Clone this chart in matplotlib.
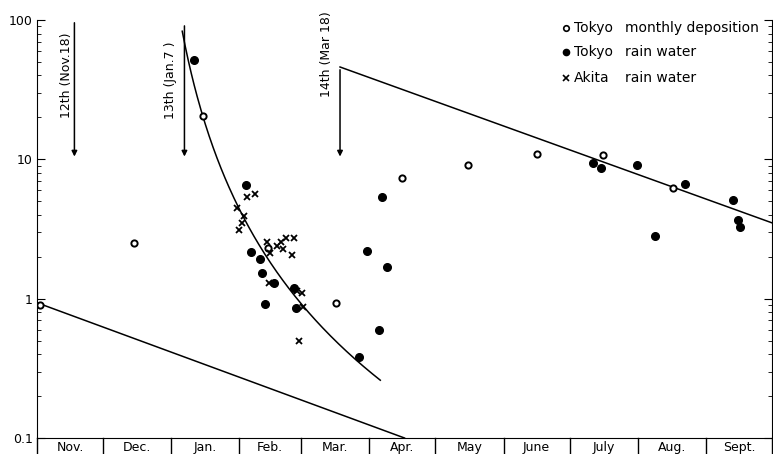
import numpy as np
import matplotlib.pyplot as plt

# days counted from Nov. 1
months = ["Nov.", "Dec.", "Jan.", "Feb.", "Mar.", "Apr.", "May", "June", "July", "Aug.", "Sept."]
month_days = [30, 31, 31, 28, 31, 30, 31, 30, 31, 31, 30]

# Tokyo monthly deposition (open circles)
dep_day = [1.4, 44, 75.5, 105, 136, 166, 196, 227, 257, 289]
dep_val = [0.9, 2.5, 20.5, 2.3, 0.93, 7.3, 9.1, 11.0, 10.7, 6.2]

# Tokyo rain water (filled circles)
tok_day = [71.4, 95, 97.3, 101.4, 102.3, 107.7, 103.6, 116.8, 117.7, 146.4, 150, 155.5,
           156.8, 159, 252.7, 256.4, 272.7, 281, 294.5, 316.4, 318.6, 319.5]
tok_val = [51.5, 6.5, 2.18, 1.94, 1.54, 1.30, 0.92, 1.2, 0.86, 0.38, 2.21, 0.60,
           5.4, 1.70, 9.4, 8.6, 9.05, 2.8, 6.6, 5.07, 3.64, 3.25]

# Akita rain water (crosses)
aki_day = [95.5, 99, 91, 94, 93, 92, 104.5, 106, 109, 111, 112, 113, 117, 116,
           105.5, 118, 120.5, 121, 119]
aki_val = [5.4, 5.6, 4.5, 3.9, 3.5, 3.1, 2.57, 2.14, 2.40, 2.53, 2.29, 2.71, 2.71, 2.07,
           1.30, 1.14, 1.09, 0.87, 0.50]

# test dates (arrows)
tests = ["12th (Nov.18)", "13th (Jan.7 )", "14th (Mar 18)"]
test_day = [17, 67, 137.7]
test_top = [100, 95, 46]

# straight decay lines (end points) and decay curve after 13th test
line1 = ([0, 167], [0.935, 0.1])
line3 = ([137.7, 334], [46, 3.5])
t0, n_exp, logA = 50, 3.05, 5.592

fig = plt.figure(figsize=(7.73, 4.54), dpi=100)
ax = fig.add_axes([37/773, 16/454, 735/773, 418/454])
ax.set_yscale("log")
ax.set_ylim(0.1, 100)
total = sum(month_days)
ax.set_xlim(0, total)

ax.plot(*line1, color="black", lw=1.1)
ax.plot(*line3, color="black", lw=1.1)
d = np.linspace(66, 156, 200)
ax.plot(d, 10**(logA - n_exp*np.log10(d - t0)), color="black", lw=1.1)

ax.plot(dep_day, dep_val, "o", mfc="white", mec="black", mew=1.4, ms=4.5, ls="none")
ax.plot(tok_day, tok_val, "o", color="black", ms=5.5, ls="none")
ax.plot(aki_day, aki_val, "x", color="black", ms=4.5, mew=1.3, ls="none")

text_pos = [(13.2, 40), (60.5, 37), (131.4, 57)]
for lab, x, top, (tx, ty) in zip(tests, test_day, test_top, text_pos):
    ax.annotate("", xy=(x, 10), xytext=(x, top),
                arrowprops=dict(arrowstyle="-|>", color="black", lw=1.1, mutation_scale=8))
    ax.text(tx, ty, lab, rotation=90, ha="center", va="center", fontsize=9)

# legend
lx = 240.5
leg = [("Tokyo", "monthly deposition"), ("Tokyo", "rain water"), ("Akita", "rain water")]
leg_y = [87.5, 59, 38.3]
for i, ((who, what), yy) in enumerate(zip(leg, leg_y)):
    if i == 0:
        ax.plot(lx, yy, "o", mfc="white", mec="black", mew=1.2, ms=4, clip_on=False)
    elif i == 1:
        ax.plot(lx, yy, "o", color="black", ms=4.5, clip_on=False)
    else:
        ax.plot(lx, yy, "x", color="black", ms=4, mew=1.2, clip_on=False)
    ax.text(lx + 3.5, yy, who, va="center", fontsize=10)
    ax.text(lx + 26.5, yy, what, va="center", fontsize=10)

# month boxes below the axis
edges = np.concatenate([[0], np.cumsum(month_days)])
for e in edges:
    ax.plot([e, e], [0.1, 0.1 * 10**(-17/139)], color="black", lw=1.0, clip_on=False)
for i, m in enumerate(months):
    ax.text((edges[i] + edges[i+1]) / 2, 0.1 * 10**(-9/139), m, ha="center", va="center",
            fontsize=9)

ax.spines["top"].set_visible(False)
ax.set_xticks([])
ax.set_yticks([0.1, 1, 10, 100])
ax.set_yticklabels(["0.1", "1", "10", "100"], fontsize=9)
ax.tick_params(axis="y", which="major", direction="in", length=6, right=True, pad=3)
ax.tick_params(axis="y", which="minor", direction="in", length=3, right=True)
ax.tick_params(axis="y", labelright=False)

fig.savefig("out.png", dpi=100)
